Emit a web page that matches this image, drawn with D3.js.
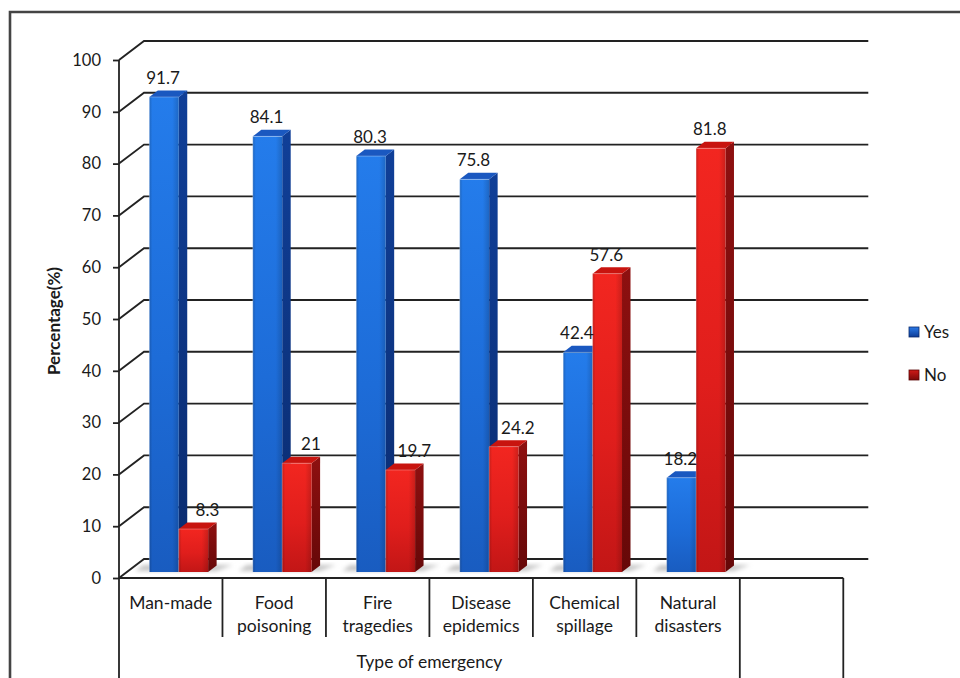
<!DOCTYPE html>
<html>
<head>
<meta charset="utf-8">
<script src="https://cdn.jsdelivr.net/npm/d3@7"></script>
<style>
  body { margin: 0; background: #fff; }
  svg { display: block; }
  text { font-family: Lato, "Open Sans", "Liberation Sans", sans-serif; fill: #1a1a1a; }
</style>
</head>
<body>
<svg id="chart" width="960" height="678"></svg>
<script>
// ---- data ----
const categories = ["Man-made", "Food poisoning", "Fire tragedies", "Disease epidemics", "Chemical spillage", "Natural disasters"];
const seriesNames = ["Yes", "No"];
const yesValues = [91.7, 84.1, 80.3, 75.8, 42.4, 18.2];
const noValues  = [8.3, 21, 19.7, 24.2, 57.6, 81.8];
const yTicks = [0, 10, 20, 30, 40, 50, 60, 70, 80, 90, 100];
const yTitle = "Percentage(%)";
const xTitle = "Type of emergency";

// ---- layout ----
const svg = d3.select("#chart");
const left = 119, colW = 103.47, floorY = 578, topY = 60;
const nCols = categories.length + 1;              // one empty column at the right of the table
const tableRight = left + colW * nCols;
const wall  = { dx: 25,  dy: -19 };               // back wall offset
const plane = { dx: 8,   dy: -6 };                // plane the bar fronts sit in
const depth = { dx: 8.5, dy: -6.5 };              // bar thickness

const x = d3.scaleBand().domain(categories).range([left, left + colW * categories.length]).paddingInner(0).paddingOuter(0);
const xs = d3.scaleBand().domain(seriesNames).range([0, x.bandwidth()]).paddingInner(0).paddingOuter(0.76);
const y = d3.scaleLinear().domain([0, 100]).range([floorY, topY]);

// ---- gradients ----
const defs = svg.append("defs");
function linGrad(id, stops, vertical) {
  const g = defs.append("linearGradient").attr("id", id)
    .attr("x1", 0).attr("y1", 0).attr("x2", vertical ? 0 : 1).attr("y2", vertical ? 1 : 0);
  stops.forEach(([o, c, a]) => g.append("stop").attr("offset", o).attr("stop-color", c).attr("stop-opacity", a == null ? 1 : a));
}
linGrad("blueFront", [[0, "#247ceb"], [0.55, "#1d6cd8"], [1, "#195cc0"]], true);
linGrad("redFront",  [[0, "#f22620"], [0.55, "#e01e1c"], [1, "#c21616"]], true);
linGrad("blueSide",  [[0, "#103f98"], [1, "#0a2b6e"]], true);
linGrad("redSide",   [[0, "#8e1010"], [1, "#660808"]], true);
linGrad("edgeShade", [[0, "#000", 0.18], [0.1, "#000", 0], [0.78, "#000", 0], [1, "#000", 0.16]], false);
linGrad("blueKey",   [[0, "#2a7ae8"], [1, "#0e3c96"]], true);
linGrad("redKey",    [[0, "#d01a18"], [1, "#7a0a0a"]], true);
defs.append("filter").attr("id", "soft").attr("x", "-50%").attr("y", "-50%").attr("width", "200%").attr("height", "200%")
  .append("feGaussianBlur").attr("stdDeviation", 2.2);

const colors = {
  Yes: { front: "url(#blueFront)", side: "url(#blueSide)", top: "#1a58c0", key: "url(#blueKey)", keyStroke: "#0a2a6a" },
  No:  { front: "url(#redFront)",  side: "url(#redSide)",  top: "#c8140f", key: "url(#redKey)",  keyStroke: "#5a0606" }
};

// ---- outer frame ----
svg.append("path").attr("d", `M10,${678 + 5}V12H${960 + 5}`)
  .attr("fill", "none").attr("stroke", "#444").attr("stroke-width", 2.6);

// ---- walls: gridlines on the back wall plus the diagonals on the left wall ----
const grid = svg.append("g").attr("fill", "none").attr("stroke", "#222").attr("stroke-width", 1.9);
grid.selectAll("path").data(yTicks).join("path")
  .attr("d", t => `M${left},${y(t)}L${left + wall.dx},${y(t) + wall.dy}H${tableRight + wall.dx}`);

// ---- floor shadows ----
const shadows = svg.append("g").attr("filter", "url(#soft)");
categories.forEach(c => {
  const x0 = x(c) + xs("Yes") + plane.dx;
  const x1 = x(c) + xs("No") + xs.bandwidth() + plane.dx;
  const b = floorY + plane.dy;
  shadows.append("path")
    .attr("d", `M${x0 - 14},${b - 1}L${x0 - 6},${b - 7}H${x1 + depth.dx + 16}L${x1 + 8},${b - 1}Z`)
    .attr("fill", "#c4c4c4");
});

// ---- bars ----
const barsG = svg.append("g");
categories.forEach((c, i) => {
  const vals = { Yes: yesValues[i], No: noValues[i] };
  seriesNames.forEach(s => {
    const v = vals[s];
    const w = xs.bandwidth();
    const bx = x(c) + xs(s) + plane.dx;
    const top = y(v) + plane.dy;
    const bottom = y(0) + plane.dy;
    const col = colors[s];
    const g = barsG.append("g");
    g.append("path")
      .attr("d", `M${bx + w},${top}L${bx + w + depth.dx},${top + depth.dy}V${bottom + depth.dy}L${bx + w},${bottom}Z`)
      .attr("fill", col.side);
    g.append("path")
      .attr("d", `M${bx},${top}L${bx + depth.dx},${top + depth.dy}H${bx + w + depth.dx}L${bx + w},${top}Z`)
      .attr("fill", col.top);
    g.append("rect").attr("x", bx).attr("y", top).attr("width", w).attr("height", bottom - top)
      .attr("fill", col.front);
    g.append("rect").attr("x", bx).attr("y", top).attr("width", w).attr("height", bottom - top)
      .attr("fill", "url(#edgeShade)");
    g.append("path").attr("d", `M${bx},${bottom}V${top}H${bx + w}`)
      .attr("fill", "none").attr("stroke", "#fff").attr("stroke-opacity", 0.28).attr("stroke-width", 1);
  });
});

// ---- value labels ----
const labels = svg.append("g").attr("font-size", 17).attr("text-anchor", "middle");
categories.forEach((c, i) => {
  const vals = { Yes: yesValues[i], No: noValues[i] };
  seriesNames.forEach(s => {
    const v = vals[s];
    // a short "No" bar standing next to a taller "Yes" bar gets its label nudged clear of the blue bar
    const nudge = (s === "No" && vals.Yes > v) ? 15 : 0;
    labels.append("text")
      .attr("x", x(c) + xs(s) + plane.dx + xs.bandwidth() / 2 - 1 + nudge)
      .attr("y", y(v) + plane.dy - 13)
      .text(v);
  });
});

// ---- y axis ----
const axis = svg.append("g").attr("transform", `translate(${left},0)`)
  .call(d3.axisLeft(y).tickValues(yTicks).tickSize(6).tickPadding(12));
axis.select(".domain").remove();
axis.selectAll(".tick line").attr("stroke", "#222").attr("stroke-width", 1.8);
axis.selectAll(".tick text").attr("font-size", 16.5).attr("font-family", null).attr("fill", "#1a1a1a");
svg.append("line").attr("x1", left).attr("x2", left).attr("y1", topY).attr("y2", 678)
  .attr("stroke", "#222").attr("stroke-width", 1.8);

svg.append("text")
  .attr("transform", `translate(56,${(floorY + topY) / 2 + 2}) rotate(-90)`)
  .attr("text-anchor", "middle").attr("dominant-baseline", "middle")
  .attr("font-size", 17).attr("font-weight", 700)
  .text(yTitle);

// ---- category table under the floor ----
const table = svg.append("g").attr("stroke", "#222").attr("stroke-width", 1.8);
table.append("line").attr("x1", left).attr("x2", tableRight).attr("y1", floorY).attr("y2", floorY);
categories.slice(1).forEach(c => {
  table.append("line").attr("x1", x(c)).attr("x2", x(c)).attr("y1", floorY).attr("y2", 637);
});
[left + colW * categories.length, tableRight].forEach(xx => {
  table.append("line").attr("x1", xx).attr("x2", xx).attr("y1", floorY).attr("y2", 678);
});

const catText = svg.append("g").attr("font-size", 17.5).attr("text-anchor", "middle");
categories.forEach(c => {
  const t = catText.append("text").attr("x", x(c) + x.bandwidth() / 2);
  const parts = c.includes("-") ? [c] : c.split(" ");
  parts.forEach((p, k) => t.append("tspan").attr("x", x(c) + x.bandwidth() / 2).attr("y", 609 + k * 23).text(p));
});
svg.append("text")
  .attr("x", left + colW * categories.length / 2).attr("y", 668)
  .attr("text-anchor", "middle").attr("font-size", 17.5)
  .text(xTitle);

// ---- legend ----
const legend = svg.append("g").attr("transform", "translate(909,327)");
seriesNames.forEach((s, k) => {
  const g = legend.append("g").attr("transform", `translate(0,${k * 43})`);
  g.append("rect").attr("width", 10).attr("height", 10)
    .attr("fill", colors[s].key).attr("stroke", colors[s].keyStroke).attr("stroke-width", 0.8);
  g.append("text").attr("x", 15).attr("y", 10.5).attr("font-size", 17).text(s);
});
</script>
</body>
</html>
